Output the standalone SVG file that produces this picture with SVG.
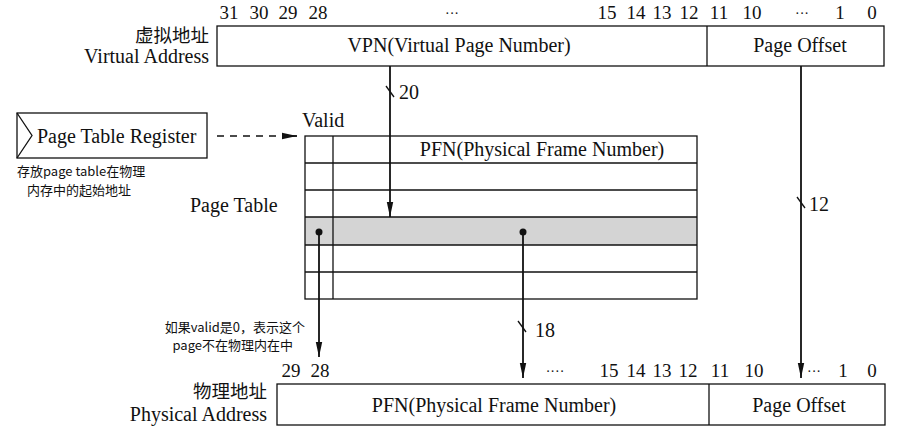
<svg xmlns="http://www.w3.org/2000/svg" width="913" height="436" viewBox="0 0 913 436">
<defs>
<marker id="ah" viewBox="0 0 10 10" refX="10" refY="5" markerWidth="15" markerHeight="8" markerUnits="userSpaceOnUse" orient="auto" preserveAspectRatio="none"><path d="M0,1 L10,5 L0,9 z" fill="#111"/></marker>
<style>
text{font-family:"Liberation Serif","Noto Sans CJK SC",serif;fill:#111;font-size:20px}
.cn{font-family:"Noto Sans CJK SC",serif;font-size:13px}
.cnb{font-family:"Noto Sans CJK SC",serif;font-size:18.5px}
.b{font-size:19px;text-anchor:middle}
.d{font-size:14px;text-anchor:middle}
.box{fill:#fff;stroke:#111;stroke-width:1.3}
.ln{stroke:#111;stroke-width:1.3;fill:none}
.arr{stroke:#111;stroke-width:1.8;fill:none}
.m{text-anchor:middle}
.e{text-anchor:end}
</style>
</defs>
<rect width="913" height="436" fill="#fff"/>

<g id="virtual-address">
<text class="cnb e" x="209" y="42">虚拟地址</text>
<text class="e" x="209" y="63">Virtual Address</text>
<text class="b" x="229" y="19">31</text>
<text class="b" x="259" y="19">30</text>
<text class="b" x="288" y="19">29</text>
<text class="b" x="318" y="19">28</text>
<text class="d" x="452" y="18">···</text>
<text class="b" x="607" y="19">15</text>
<text class="b" x="636" y="19">14</text>
<text class="b" x="662" y="19">13</text>
<text class="b" x="689" y="19">12</text>
<text class="b" x="719" y="19">11</text>
<text class="b" x="752" y="19">10</text>
<text class="d" x="802" y="18">···</text>
<text class="b" x="840" y="19">1</text>
<text class="b" x="872" y="19">0</text>
<rect class="box" x="217" y="26" width="667" height="40"/>
<line class="ln" x1="707" y1="26" x2="707" y2="66"/>
<text class="m" x="459" y="52">VPN(Virtual Page Number)</text>
<text class="m" x="800" y="52">Page Offset</text>
</g>

<g id="page-table-register">
<rect class="box" x="17" y="113" width="190" height="45"/>
<polyline class="ln" points="17,113 32,135.5 17,158"/>
<text x="37" y="143">Page Table Register</text>
<text class="cn" x="17" y="176">存放page table在物理</text>
<text class="cn" x="27" y="195">内存中的起始地址</text>
</g>

<g id="page-table">
<text x="302" y="127">Valid</text>
<text x="190" y="212">Page Table</text>
<rect x="305" y="217" width="392" height="28" fill="#d4d4d4"/>
<rect class="ln" x="305" y="136" width="392" height="163"/>
<line class="ln" x1="305" y1="163" x2="697" y2="163"/>
<line class="ln" x1="305" y1="190" x2="697" y2="190"/>
<line class="ln" x1="305" y1="217" x2="697" y2="217"/>
<line class="ln" x1="305" y1="245" x2="697" y2="245"/>
<line class="ln" x1="305" y1="272" x2="697" y2="272"/>
<line class="ln" x1="333" y1="136" x2="333" y2="299"/>
<text class="m" x="542" y="156">PFN(Physical Frame Number)</text>
</g>

<g id="physical-address">
<text class="cnb e" x="267" y="398">物理地址</text>
<text class="e" x="267" y="421">Physical Address</text>
<text class="b" x="291" y="377">29</text>
<text class="b" x="320" y="377">28</text>
<text class="d" x="555" y="376">····</text>
<text class="b" x="609" y="377">15</text>
<text class="b" x="636" y="377">14</text>
<text class="b" x="662" y="377">13</text>
<text class="b" x="688" y="377">12</text>
<text class="b" x="720" y="377">11</text>
<text class="b" x="754" y="377">10</text>
<text class="d" x="814" y="376">···</text>
<text class="b" x="843" y="377">1</text>
<text class="b" x="872" y="377">0</text>
<rect class="box" x="277" y="384" width="608" height="41"/>
<line class="ln" x1="709" y1="384" x2="709" y2="425"/>
<text class="m" x="494" y="412">PFN(Physical Frame Number)</text>
<text class="m" x="799" y="412">Page Offset</text>
</g>

<g id="connectors">
<line class="arr" x1="390" y1="66" x2="390" y2="217" marker-end="url(#ah)"/>
<line class="ln" x1="386" y1="86" x2="394" y2="97"/>
<text x="399" y="99">20</text>

<line class="arr" x1="801" y1="66" x2="801" y2="378" marker-end="url(#ah)"/>
<line class="ln" x1="797" y1="197" x2="805" y2="208"/>
<text x="809" y="211">12</text>

<line x1="217" y1="136" x2="284" y2="136" stroke="#111" stroke-width="1.3" stroke-dasharray="7,6"/>
<line class="arr" x1="282" y1="136" x2="297" y2="136" marker-end="url(#ah)"/>

<circle cx="319" cy="232" r="3.5" fill="#111"/>
<line class="arr" x1="319" y1="232" x2="319" y2="357" marker-end="url(#ah)"/>
<text class="cn e" x="305" y="332">如果valid是0，表示这个</text>
<text class="cn e" x="293" y="350">page不在物理内在中</text>

<circle cx="523" cy="232" r="3.5" fill="#111"/>
<line class="arr" x1="523" y1="232" x2="523" y2="378" marker-end="url(#ah)"/>
<line class="ln" x1="518" y1="321" x2="526" y2="332"/>
<text x="535" y="337">18</text>
</g>
</svg>
